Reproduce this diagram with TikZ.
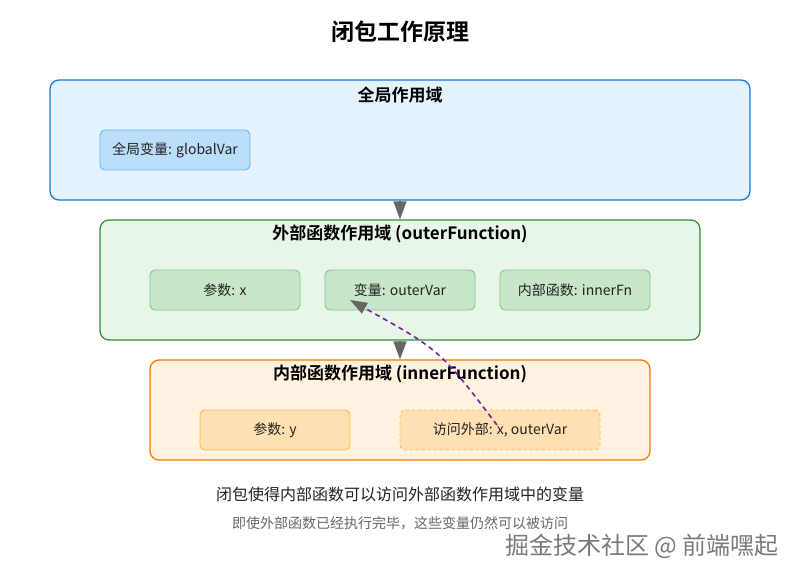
\documentclass[tikz,border=0pt]{standalone}
\usepackage{fontspec}
\setmainfont{Noto Sans CJK SC}[BoldFont={Noto Sans CJK SC Bold}]
\usetikzlibrary{arrows.meta,calc}
\definecolor{globalline}{HTML}{1976D2}
\definecolor{globalfill}{HTML}{E3F2FD}
\definecolor{globalitem}{HTML}{BBDEFB}
\definecolor{globalitemline}{HTML}{64B5F6}
\definecolor{outerline}{HTML}{388E3C}
\definecolor{outerfill}{HTML}{E8F5E9}
\definecolor{outeritem}{HTML}{C8E6C9}
\definecolor{outeritemline}{HTML}{81C784}
\definecolor{innerline}{HTML}{F57C00}
\definecolor{innerfill}{HTML}{FFF3E0}
\definecolor{inneritem}{HTML}{FFE0B2}
\definecolor{inneritemline}{HTML}{FFB74D}
\definecolor{closureline}{HTML}{7B1FA2}
\definecolor{flowgray}{HTML}{666666}
\definecolor{textdark}{HTML}{222222}
\definecolor{marktext}{HTML}{7A7A7A}

\begin{document}
\begin{tikzpicture}[
  x=1pt,
  y=-1pt,
  every node/.style={font=\fontsize{14}{17}\selectfont, text=textdark},
  scopebox/.style={draw, line width=1.3pt, rounded corners=9pt, inner sep=0pt},
  itembox/.style={draw, line width=0.9pt, rounded corners=5pt,
    minimum width=150pt, minimum height=40pt, inner sep=0pt},
  scopetitle/.style={font=\fontsize{17}{20}\selectfont\bfseries, text=black},
  flow/.style={draw=flowgray, line width=1.5pt, -{Triangle[width=13pt,length=18pt]}},
  closure/.style={draw=closureline, line width=1.6pt, dash pattern=on 5pt off 4pt,
    -{Triangle[width=12pt,length=17pt,color=flowgray]}}
]
  \useasboundingbox (0,0) rectangle (800,580);

  \node[font=\fontsize{23}{27}\selectfont\bfseries, text=black] (title) at (400,32) {闭包工作原理};

  % global scope
  \node[scopebox, draw=globalline, fill=globalfill, minimum width=700pt, minimum height=120pt]
    (global) at (400,140) {};
  \node[scopetitle] (globaltitle) at (400,95) {全局作用域};
  \node[itembox, draw=globalitemline, fill=globalitem] (globalVar) at (175,150) {全局变量: globalVar};

  % outer function scope
  \node[scopebox, draw=outerline, fill=outerfill, minimum width=600pt, minimum height=120pt]
    (outer) at (400,280) {};
  \node[scopetitle] (outertitle) at (400,234) {外部函数作用域 (outerFunction)};
  \node[itembox, draw=outeritemline, fill=outeritem] (paramX) at (225,290) {参数: x};
  \node[itembox, draw=outeritemline, fill=outeritem] (outerVar) at (400,290) {变量: outerVar};
  \node[itembox, draw=outeritemline, fill=outeritem] (innerFn) at (575,290) {内部函数: innerFn};

  % inner function scope
  \node[scopebox, draw=innerline, fill=innerfill, minimum width=500pt, minimum height=100pt]
    (inner) at (400,410) {};
  \node[scopetitle] (innertitle) at (400,374) {内部函数作用域 (innerFunction)};
  \node[itembox, draw=inneritemline, fill=inneritem] (paramY) at (275,430) {参数: y};
  \node[itembox, draw=inneritemline, fill=inneritem, dashed, minimum width=200pt]
    (access) at (500,430) {访问外部: x, outerVar};

  \draw[flow] (global.south) -- (outer.north);
  \draw[flow] (outer.south) -- (inner.north);
  \draw[closure] ($(access.center)+(-3,-5)$) .. controls (440,350) .. ($(outerVar.center)+(-50,10)$);

  \node[font=\fontsize{16}{19}\selectfont] (summary) at (400,494) {闭包使得内部函数可以访问外部函数作用域中的变量};
  \node[text=flowgray] (note) at (400,523) {即使外部函数已经执行完毕，这些变量仍然可以被访问};
  \node[anchor=east, font=\fontsize{24}{28}\selectfont, text=marktext] (mark) at (782,546) {掘金技术社区 @ 前端嘿起};
\end{tikzpicture}
\end{document}
